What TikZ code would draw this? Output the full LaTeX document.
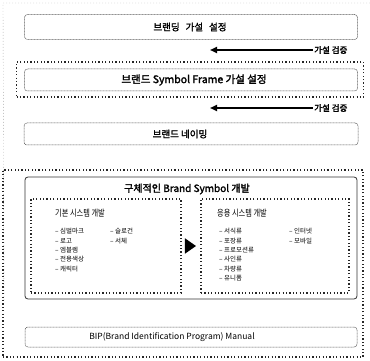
\documentclass[tikz,border=0pt]{standalone}
\usepackage{fontspec}
\setmainfont{Noto Sans CJK KR}[AutoFakeBold=2]
\newfontfamily\cond{Noto Sans CJK KR}[FakeStretch=0.8]
\usetikzlibrary{shapes.geometric,arrows.meta}
\tikzset{
  thinbox/.style={draw=black!65, rounded corners=3pt, line width=0.5pt, dash pattern=on 1pt off 0.5pt},
  solidbox/.style={draw=black!80, rounded corners=3pt, line width=0.8pt},
  dotbox/.style={draw=black!85, line width=1.3pt, dash pattern=on 1.2pt off 2.2pt},
  faint/.style={draw=black!35, line width=0.4pt, dash pattern=on 1pt off 2pt},
  ttl/.style={font=\bfseries\fontsize{9.5}{10}\selectfont, inner sep=0pt},
  lbl/.style={font=\bfseries\fontsize{8.5}{10}\selectfont, inner sep=1pt, anchor=west},
  arr/.style={line width=1.8pt, -{Triangle[length=7pt,width=6pt]}},
  head/.style={font=\cond\fontsize{9}{10}\selectfont, inner sep=0pt, anchor=west},
  item/.style={font=\fontsize{6.5}{7}\selectfont, inner sep=0pt, anchor=west},
}
\begin{document}
\begin{tikzpicture}[x=1pt,y=-1pt]
\useasboundingbox (0,0) rectangle (370,361);
% faint scanned frame
\coordinate (f1) at (3,3);
\coordinate (f2) at (370,3);
\coordinate (f3) at (4,300);
\draw[faint] (f2) -- (f1) -- (f3);
% box 1
\node[thinbox, minimum width=333pt, minimum height=25pt] (b1) at (191,27) {};
\node[ttl] (t1) at (190,27) {브랜딩\hspace{6pt}가설\hspace{6pt}설정};
% verification 1
\node[lbl] (v1) at (313,50) {가설 검증};
\coordinate (a1) at (210,50);
\draw[arr] (v1.west) -- (a1);
% box 2
\node[dotbox, minimum width=347pt, minimum height=35pt] (b2o) at (190,79.5) {};
\node[thinbox, minimum width=333pt, minimum height=22pt] (b2) at (191,80) {};
\node[ttl, font=\bfseries\fontsize{10.5}{11}\selectfont] (t2) at (194,80) {브랜드 Symbol Frame 가설 설정};
% verification 2
\node[lbl] (v2) at (313,108) {가설 검증};
\coordinate (a2) at (210,108);
\draw[arr] (v2.west) -- (a2);
% box 3
\node[thinbox, minimum width=334pt, minimum height=22pt] (b3) at (191,134) {};
\node[ttl] (t3) at (180,134) {브랜드 네이밍};
% big box
\node[dotbox, minimum width=360pt, minimum height=187pt] (big) at (183,263.5) {};
\node[solidbox, minimum width=332pt, minimum height=122pt] (inner) at (191,238) {};
\node[ttl, font=\bfseries\fontsize{10}{11}\selectfont] (t4) at (187,189) {구체적인 Brand Symbol 개발};
% sub boxes
\node[dotbox, minimum width=150pt, minimum height=94pt] (left) at (106,246) {};
\node[dotbox, minimum width=148pt, minimum height=94pt] (right) at (275,246) {};
\node[isosceles triangle, fill=black, draw=none, minimum height=11pt, minimum width=13pt, inner sep=0pt, isosceles triangle apex angle=70] (tri) at (189,246) {};
% left content
\node[head] (h1) at (55,213) {기본 시스템 개발};
\node[item] (l1) at (55,231.5) {– 심벌마크};
\node[item] (l2) at (55,240.8) {– 로고};
\node[item] (l3) at (55,250.1) {– 엠블렘};
\node[item] (l4) at (55,259.4) {– 전용색상};
\node[item] (l5) at (55,268.7) {– 캐릭터};
\node[item] (l6) at (110,231.5) {– 슬로건};
\node[item] (l7) at (110,240.8) {– 서체};
% right content
\node[head] (h2) at (217,213) {응용 시스템 개발};
\node[item] (r1) at (219,231.5) {– 서식류};
\node[item] (r2) at (219,240.8) {– 포장류};
\node[item] (r3) at (219,250.1) {– 프로모션류};
\node[item] (r4) at (219,259.4) {– 사인류};
\node[item] (r5) at (219,268.7) {– 차량류};
\node[item] (r6) at (219,278) {– 유니폼};
\node[item] (r7) at (289,231.5) {– 인터넷};
\node[item] (r8) at (289,240.8) {– 모바일};
% BIP
\node[thinbox, minimum width=332pt, minimum height=20pt] (bip) at (191,337) {};
\node[font=\fontsize{8.5}{10}\selectfont, inner sep=0pt] (t5) at (172,337) {BIP(Brand Identification Program) Manual};
\end{tikzpicture}
\end{document}
